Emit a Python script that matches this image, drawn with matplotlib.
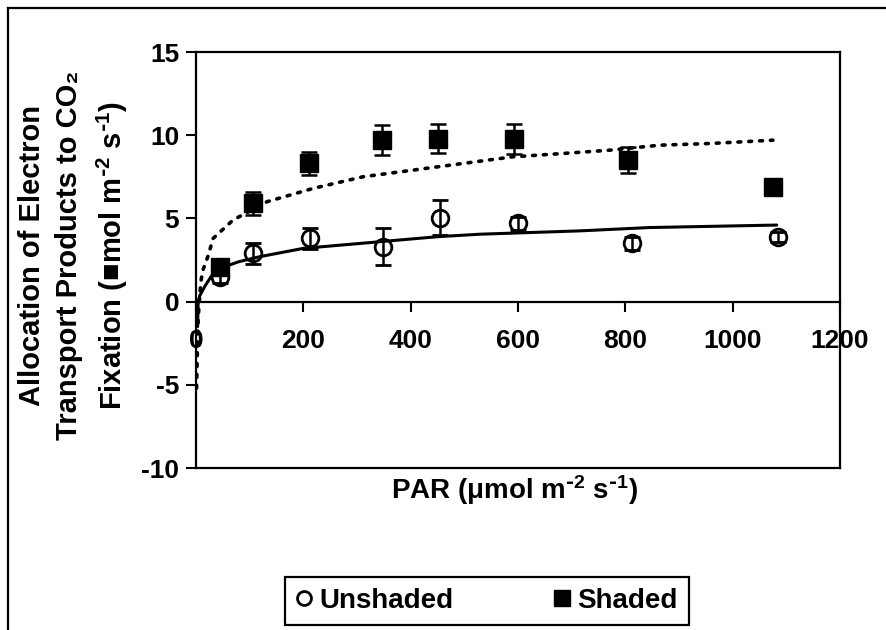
import matplotlib
matplotlib.use("Agg")
import matplotlib.pyplot as plt
from matplotlib.lines import Line2D

plt.rcParams["font.family"] = ["Liberation Sans", "DejaVu Sans"]
plt.rcParams["font.weight"] = "bold"
plt.rcParams["mathtext.default"] = "regular"
plt.rcParams["axes.unicode_minus"] = False

# measured points (PAR, allocation) with error bars
par_unshaded = [45, 106, 212, 348, 454, 600, 812, 1084]
val_unshaded = [1.5, 2.9, 3.8, 3.3, 5.05, 4.7, 3.5, 3.9]
err_unshaded = [0.4, 0.65, 0.65, 1.1, 1.05, 0.4, 0.4, 0.3]

par_shaded = [45, 106, 211, 346, 451, 592, 805, 1075]
val_shaded = [2.1, 5.9, 8.3, 9.7, 9.8, 9.8, 8.5, 6.9]
err_shaded = [0.3, 0.7, 0.7, 0.9, 0.85, 0.9, 0.8, 0.3]

# fitted curves
fit_par_unshaded = [3, 4, 7, 17, 30, 45, 80, 119, 200, 343, 450, 529, 715, 845, 1082]
fit_val_unshaded = [-1.5, 0.0, 0.35, 0.95, 1.6, 2.0, 2.4, 2.7, 3.2, 3.6, 3.9, 4.05, 4.25, 4.45, 4.6]

fit_par_shaded = [1, 4, 9, 13, 22, 32, 69, 132, 218, 311, 404, 497, 590, 683, 771, 864, 957, 1075]
fit_val_shaded = [-5.2, -1.0, 1.2, 1.9, 2.7, 3.8, 4.9, 6.0, 6.8, 7.5, 7.9, 8.3, 8.7, 8.9, 9.1, 9.4, 9.5, 9.7]

W, H = 886, 630
fig = plt.figure(figsize=(W / 100, H / 100), dpi=100)
ax = fig.add_axes([196 / W, 1 - 468 / H, (840 - 196) / W, (468 - 52) / H])

ax.plot(fit_par_unshaded, fit_val_unshaded, color="k", lw=2.2, solid_capstyle="round")
ax.plot(fit_par_shaded, fit_val_shaded, color="k", lw=2.6, ls=(0, (0.8, 2.2)),
        dash_capstyle="round")

ax.errorbar(par_unshaded, val_unshaded, yerr=err_unshaded, fmt="o", ms=12,
            mfc="none", mec="k", mew=2, ecolor="k", elinewidth=1.8, capsize=6,
            capthick=1.8, zorder=4)
ax.errorbar(par_shaded, val_shaded, yerr=err_shaded, fmt="s", ms=12.5,
            mfc="k", mec="k", ecolor="k", elinewidth=1.8, capsize=6,
            capthick=1.8, zorder=5)

ax.set_xlim(0, 1200)
ax.set_ylim(-10, 15)
ax.set_xticks(range(0, 1201, 200))
ax.set_yticks([-10, -5, 0, 5, 10, 15])
ax.spines["bottom"].set_position(("data", 0))
for s in ax.spines.values():
    s.set_linewidth(1.6)
ax.axhline(-10, color="k", lw=1.6, clip_on=False)
ax.tick_params(axis="x", direction="out", length=7, width=1.5, pad=13, labelsize=19)
ax.tick_params(axis="y", direction="out", length=7, width=1.5, pad=5, labelsize=19)

ylab = ("Allocation of Electron\nTransport Products to CO\u2082\n"
        "Fixation (\u25a0mol m$^{\\text{-}2}$ s$^{\\text{-}1}$)")
fig.text(74 / W, 1 - 255 / H, ylab, rotation=90, ha="center", va="center",
         fontsize=21, linespacing=1.42, multialignment="center")
fig.text(515 / W, 1 - 490 / H, "PAR (\u03bcmol m$^{\\text{-}2}$ s$^{\\text{-}1}$)",
         ha="center", va="center", fontsize=20)

handles = [Line2D([], [], ls="none", marker="o", ms=10, mfc="none", mec="k", mew=2),
           Line2D([], [], ls="none", marker="s", ms=12, mfc="k", mec="k")]
leg = fig.legend(handles, ["Unshaded", "Shaded"], loc="center",
                 bbox_to_anchor=(487 / W, 1 - 601 / H), ncol=2, fontsize=20,
                 frameon=True, fancybox=False, edgecolor="k", framealpha=1,
                 handlelength=0.6, handletextpad=0.25, columnspacing=3.6,
                 borderpad=0.4, borderaxespad=0)
leg.get_frame().set_linewidth(1.6)

# outer chart border (top and left edges visible in the scan)
fig.add_artist(Line2D([8 / W, 8 / W], [0, 1 - 8 / H], color="k", lw=1.6))
fig.add_artist(Line2D([8 / W, 1], [1 - 8 / H, 1 - 8 / H], color="k", lw=1.6))

fig.savefig("out.png", dpi=100)
